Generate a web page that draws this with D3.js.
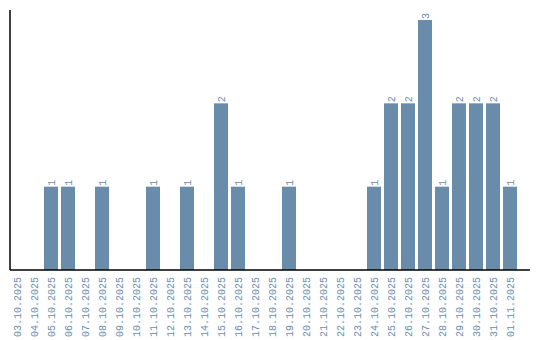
<!DOCTYPE html>
<html>
<head>
<meta charset="utf-8">
<script src="https://cdn.jsdelivr.net/npm/d3@7"></script>
<style>
  body { margin: 0; background: #fff; }
  svg text { font-family: "Liberation Mono", "Courier New", monospace; fill: #6a8caf; }
</style>
</head>
<body>
<script>
// Dates (categories) and counts per day
const dates = ["03.10.2025", "04.10.2025", "05.10.2025", "06.10.2025", "07.10.2025",
  "08.10.2025", "09.10.2025", "10.10.2025", "11.10.2025", "12.10.2025",
  "13.10.2025", "14.10.2025", "15.10.2025", "16.10.2025", "17.10.2025",
  "18.10.2025", "19.10.2025", "20.10.2025", "21.10.2025", "22.10.2025",
  "23.10.2025", "24.10.2025", "25.10.2025", "26.10.2025", "27.10.2025",
  "28.10.2025", "29.10.2025", "30.10.2025", "31.10.2025", "01.11.2025"];
const counts = [0, 0, 1, 1, 0, 1, 0, 0, 1, 0, 1, 0, 2, 1, 0, 0, 1, 0, 0, 0, 0, 1, 2, 2, 3, 1, 2, 2, 2, 1];

const data = dates.map((d, i) => ({ date: d, count: counts[i] }));

const width = 540, height = 340;
const margin = { top: 10, right: 10, bottom: 70, left: 10 };

const svg = d3.select("body").append("svg")
    .attr("width", width)
    .attr("height", height);

// x scale - bars start right at the axis
const x = d3.scaleBand()
    .domain(dates)
    .range([margin.left, 517])
    .paddingInner(3 / 17)
    .paddingOuter(0);

const y = d3.scaleLinear()
    .domain([0, d3.max(counts) * 1.04])
    .range([height - margin.bottom, margin.top]);

// bars (only non-zero days)
svg.selectAll(".bar")
    .data(data.filter(d => d.count > 0))
    .enter().append("rect")
    .attr("class", "bar")
    .attr("x", d => x(d.date))
    .attr("y", d => y(d.count))
    .attr("width", x.bandwidth())
    .attr("height", d => y(0) - y(d.count))
    .style("fill", "#6a8cab");

// value labels above bars, rotated
svg.selectAll(".val")
    .data(data.filter(d => d.count > 0))
    .enter().append("text")
    .attr("class", "val")
    .attr("transform", d => "translate(" + (x(d.date) + x.bandwidth() / 2) + "," + (y(d.count) - 1) + ") rotate(-90)")
    .attr("dy", "0.35em")
    .style("font-size", "10px")
    .style("text-anchor", "start")
    .text(d => d.count);

// x axis
const xAxis = d3.axisBottom(x).tickSize(0).tickPadding(0);
const gx = svg.append("g")
    .attr("transform", "translate(0," + y(0) + ")")
    .call(xAxis);
gx.select(".domain").remove();
gx.selectAll(".tick text")
    .style("font-size", "10px")
    .style("text-anchor", "end")
    .attr("fill", null)
    .attr("y", 0)
    .attr("x", 0)
    .attr("dy", "0.35em")
    .attr("transform", "translate(0,7) rotate(-90)");

// axis lines
svg.append("line")
    .attr("x1", margin.left).attr("x2", width - margin.right)
    .attr("y1", y(0)).attr("y2", y(0))
    .style("stroke", "#000").style("stroke-width", 1.5);
svg.append("line")
    .attr("x1", margin.left).attr("x2", margin.left)
    .attr("y1", y(0)).attr("y2", margin.top)
    .style("stroke", "#000").style("stroke-width", 1.5);
</script>
</body>
</html>
